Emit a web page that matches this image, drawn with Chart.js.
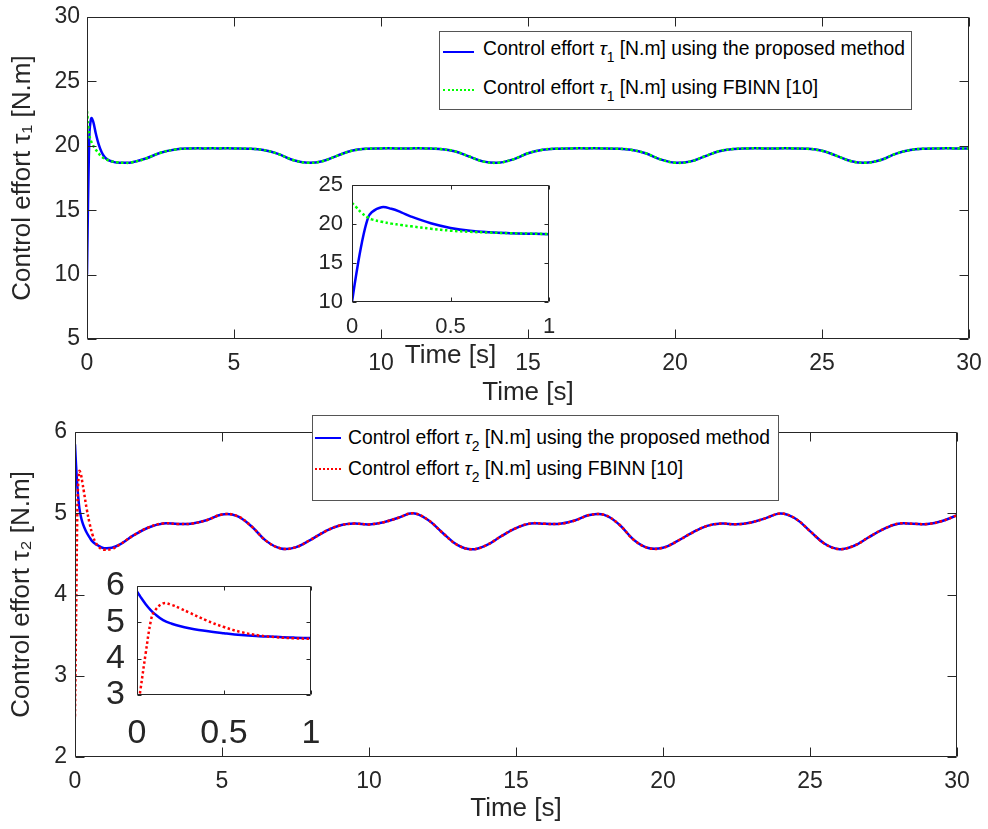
<!DOCTYPE html>
<html>
<head>
<meta charset="utf-8">
<script src="https://cdn.jsdelivr.net/npm/chart.js@4.4.1/dist/chart.umd.min.js"></script>
<style>
  html, body { margin: 0; padding: 0; background: #fff; }
  #page { position: relative; width: 988px; height: 829px; overflow: hidden; font-family: 'Liberation Sans', Arial, Helvetica, sans-serif; }
  canvas { position: absolute; }
  .legend { position: absolute; background: #fff; border: 1px solid #555; box-sizing: border-box; }
  .legend .sw { position: absolute; height: 0; }
  .legend .lt { position: absolute; font-size: 19.3px; line-height: 19.3px; white-space: nowrap; color: #000; }
  .legend sub { font-size: 0.72em; vertical-align: -0.5em; line-height: 0; }
</style>
</head>
<body>
<div id="page">
  <canvas id="topMain" width="1010" height="422" style="left:0;top:-10px"></canvas>
  <canvas id="bottomMain" width="988" height="427" style="left:0;top:402px"></canvas>
  <canvas id="topInset" width="285" height="215" style="left:290px;top:160px"></canvas>
  <canvas id="bottomInset" width="285" height="205" style="left:60px;top:550px"></canvas>

  <div class="legend" style="left:439px;top:31px;width:473px;height:79px">
    <span class="sw" style="left:3px;top:19px;width:31px;border-top:2.5px solid #0000ff"></span>
    <span class="lt" style="left:43px;top:7px">Control effort <i>τ</i><sub>1</sub> [N.m] using the proposed method</span>
    <span class="sw" style="left:3px;top:57px;width:31px;border-top:2.5px dotted #00ff00"></span>
    <span class="lt" style="left:43px;top:45.5px">Control effort <i>τ</i><sub>1</sub> [N.m] using FBINN [10]</span>
  </div>
  <div class="legend" style="left:312px;top:415px;width:467px;height:86px">
    <span class="sw" style="left:2px;top:21px;width:26px;border-top:2.5px solid #0000ff"></span>
    <span class="lt" style="left:35px;top:12px">Control effort <i>τ</i><sub>2</sub> [N.m] using the proposed method</span>
    <span class="sw" style="left:2px;top:52px;width:26px;border-top:2.5px dotted #ff0000"></span>
    <span class="lt" style="left:35px;top:42.5px">Control effort <i>τ</i><sub>2</sub> [N.m] using FBINN [10]</span>
  </div>
</div>
<script>
// sample times [s], dense at the start for the transient
const time = [0, 0.02, 0.05, 0.08, 0.1, 0.15, 0.2, 0.25, 0.3, 0.4, 0.5, 0.6, 0.7, 0.8, 0.9, 1, 1.25,
  1.5, 2, 2.5, 3, 3.5, 4, 4.5, 5, 5.5, 6, 6.5, 7, 7.5, 8, 8.5, 9, 9.5, 10,
  10.5, 11, 11.5, 12, 12.5, 13, 13.5, 14, 14.5, 15, 15.5, 16, 16.5, 17, 17.5, 18,
  18.5, 19, 19.5, 20, 20.5, 21, 21.5, 22, 22.5, 23, 23.5, 24, 24.5, 25, 25.5, 26,
  26.5, 27, 27.5, 28, 28.5, 29, 29.5, 30];

const tau1Proposed = [10, 13.3, 17.6, 20.7, 21.5, 22.15, 21.95, 21.5, 20.95, 20.1, 19.5, 19.12, 18.93, 18.82, 18.75, 18.7, 18.68,
  18.7, 19.01, 19.46, 19.71, 19.79, 19.8, 19.8, 19.8, 19.78, 19.67, 19.37, 18.9, 18.68, 18.8, 19.22, 19.61, 19.77, 19.8,
  19.8, 19.8, 19.8, 19.76, 19.58, 19.17, 18.77, 18.69, 18.95, 19.42, 19.69, 19.78, 19.8, 19.8, 19.8, 19.78,
  19.69, 19.42, 18.95, 18.69, 18.77, 19.17, 19.58, 19.76, 19.8, 19.8, 19.8, 19.8, 19.77, 19.61, 19.22, 18.8,
  18.68, 18.9, 19.37, 19.67, 19.78, 19.8, 19.8, 19.8];

const tau1Fbinn = [22.7, 22.2, 21.4, 20.85, 20.6, 20.3, 20.05, 19.87, 19.7, 19.4, 19.15, 19.0, 18.9, 18.82, 18.77, 18.72, 18.68,
  18.7, 19.01, 19.46, 19.71, 19.79, 19.8, 19.8, 19.8, 19.78, 19.67, 19.37, 18.9, 18.68, 18.8, 19.22, 19.61, 19.77, 19.8,
  19.8, 19.8, 19.8, 19.76, 19.58, 19.17, 18.77, 18.69, 18.95, 19.42, 19.69, 19.78, 19.8, 19.8, 19.8, 19.78,
  19.69, 19.42, 18.95, 18.69, 18.77, 19.17, 19.58, 19.76, 19.8, 19.8, 19.8, 19.8, 19.77, 19.61, 19.22, 18.8,
  18.68, 18.9, 19.37, 19.67, 19.78, 19.8, 19.8, 19.8];

const tau2Proposed = [5.85, 5.7, 5.5, 5.33, 5.24, 5.06, 4.96, 4.89, 4.84, 4.76, 4.7, 4.65, 4.62, 4.6, 4.58, 4.57, 4.575,
  4.61, 4.73, 4.825, 4.875, 4.868, 4.874, 4.917, 4.985, 4.968, 4.84, 4.66, 4.567, 4.58, 4.67, 4.775, 4.85, 4.873, 4.863,
  4.89, 4.945, 5.0, 4.92, 4.76, 4.61, 4.556, 4.608, 4.718, 4.818, 4.875, 4.87, 4.87, 4.91, 4.978, 4.98,
  4.865, 4.675, 4.572, 4.575, 4.66, 4.762, 4.845, 4.873, 4.864, 4.887, 4.94, 4.997, 4.935, 4.78, 4.625, 4.558,
  4.6, 4.705, 4.806, 4.872, 4.871, 4.868, 4.905, 4.975];

const tau2Fbinn = [2.5, 3.15, 4.15, 5.05, 5.3, 5.52, 5.48, 5.38, 5.27, 5.05, 4.87, 4.73, 4.64, 4.59, 4.56, 4.55, 4.56,
  4.61, 4.73, 4.825, 4.875, 4.868, 4.874, 4.917, 4.985, 4.968, 4.84, 4.66, 4.567, 4.58, 4.67, 4.775, 4.85, 4.873, 4.863,
  4.89, 4.945, 5.0, 4.92, 4.76, 4.61, 4.556, 4.608, 4.718, 4.818, 4.875, 4.87, 4.87, 4.91, 4.978, 4.98,
  4.865, 4.675, 4.572, 4.575, 4.66, 4.762, 4.845, 4.873, 4.864, 4.887, 4.94, 4.997, 4.935, 4.78, 4.625, 4.558,
  4.6, 4.705, 4.806, 4.872, 4.871, 4.868, 4.905, 4.975];

const FONT = "'Liberation Sans', Arial, Helvetica, sans-serif";
const INK = '#262626';

// matlab style box with inward ticks on all four sides
const boxPlugin = {
  id: 'matlabBox',
  beforeDraw(chart, args, o) {
    if (!o.fill) return;
    const { ctx, chartArea: a } = chart;
    ctx.save();
    ctx.fillStyle = '#ffffff';
    ctx.fillRect(a.left, a.top, a.right - a.left, a.bottom - a.top);
    ctx.restore();
  },
  afterDatasetsDraw(chart, args, o) {
    const { ctx, chartArea: a, scales: { x, y } } = chart;
    const L = Math.round(a.left) + 0.5, R = Math.round(a.right) - 0.5;
    const T = Math.round(a.top) + 0.5, B = Math.round(a.bottom) - 0.5;
    const len = o.tick;
    ctx.save();
    ctx.strokeStyle = INK;
    ctx.lineWidth = 1;
    ctx.beginPath();
    ctx.rect(L, T, R - L, B - T);
    x.ticks.forEach(t => {
      const px = Math.round(x.getPixelForValue(t.value)) + 0.5;
      ctx.moveTo(px, B); ctx.lineTo(px, B - len);
      ctx.moveTo(px, T); ctx.lineTo(px, T + len);
    });
    y.ticks.forEach(t => {
      const py = Math.round(y.getPixelForValue(t.value)) + 0.5;
      ctx.moveTo(L, py); ctx.lineTo(L + len, py);
      ctx.moveTo(R, py); ctx.lineTo(R - len, py);
    });
    ctx.stroke();
    ctx.restore();
  }
};

const plainNumber = v => String(+Number(v).toFixed(3));

function plot(id, s) {
  const datasets = s.series.map(d => ({
    label: d.label,
    data: time.map((t, i) => ({ x: t, y: d.values[i] })),
    borderColor: d.color,
    borderWidth: 2.5,
    borderDash: d.dotted ? [2.5, 2.5] : [],
    pointRadius: 0,
    tension: 0.4,
    order: d.dotted ? 0 : 1
  }));
  const tickFont = { family: FONT, size: s.tickSize };
  return new Chart(document.getElementById(id), {
    type: 'line',
    data: { datasets },
    plugins: [boxPlugin],
    options: {
      responsive: false,
      animation: false,
      devicePixelRatio: 1,
      layout: { padding: { left: 0, top: s.padTop, right: s.padRight, bottom: 0 } },
      plugins: {
        legend: { display: false },
        tooltip: { enabled: false },
        matlabBox: { fill: s.fill, tick: s.tickLen }
      },
      scales: {
        x: {
          type: 'linear', min: s.x[0], max: s.x[1],
          grid: { display: false, drawTicks: false }, border: { display: false },
          ticks: { stepSize: s.x[2], padding: s.xPad, color: INK, font: tickFont, maxRotation: 0, autoSkip: false, callback: plainNumber },
          title: { display: !!s.xTitle, text: s.xTitle || '', color: INK, font: { family: FONT, size: 26 }, padding: { top: 0, bottom: s.xTitlePad || 0 } },
          afterFit: sc => { sc.height = s.xHeight; }
        },
        y: {
          type: 'linear', min: s.y[0], max: s.y[1],
          grid: { display: false, drawTicks: false }, border: { display: false },
          ticks: { stepSize: s.y[2], padding: s.yPad, color: INK, font: tickFont, autoSkip: false, callback: plainNumber },
          title: { display: !!s.yTitle, text: s.yTitle || '', color: INK, font: { family: FONT, size: 26 }, padding: { top: s.yTitlePad || 0, bottom: 0 } },
          afterFit: sc => { sc.width = s.yWidth; }
        }
      }
    }
  });
}

const tau1Series = [
  { label: 'Control effort τ1 [N.m] using the proposed method', values: tau1Proposed, color: '#0000ff' },
  { label: 'Control effort τ1 [N.m] using FBINN [10]', values: tau1Fbinn, color: '#00ff00', dotted: true }
];
const tau2Series = [
  { label: 'Control effort τ2 [N.m] using the proposed method', values: tau2Proposed, color: '#0000ff' },
  { label: 'Control effort τ2 [N.m] using FBINN [10]', values: tau2Fbinn, color: '#ff0000', dotted: true }
];

// canvas sizes and paddings chosen so the plot boxes land where the figure has them
plot('topMain', {
  series: tau1Series, x: [0, 30, 5], y: [5, 30, 5],
  padTop: 27, padRight: 41, yWidth: 87, xHeight: 73,
  tickSize: 23, xPad: 11, yPad: 7, tickLen: 9,
  xTitle: 'Time [s]', xTitlePad: 3.9,
  yTitle: 'Control effort τ₁ [N.m]', yTitlePad: 7.4
});

plot('bottomMain', {
  series: tau2Series, x: [0, 30, 5], y: [2, 6, 1],
  padTop: 30, padRight: 31, yWidth: 75, xHeight: 72,
  tickSize: 23, xPad: 10.5, yPad: 8, tickLen: 9,
  xTitle: 'Time [s]', xTitlePad: 4.4,
  yTitle: 'Control effort τ₂ [N.m]', yTitlePad: 6
});

plot('topInset', {
  series: tau1Series, x: [0, 1, 0.5], y: [10, 25, 5],
  padTop: 25, padRight: 26, yWidth: 62, xHeight: 73,
  tickSize: 22, xPad: 11.8, yPad: 9, tickLen: 4, fill: true,
  xTitle: 'Time [s]', xTitlePad: 3.9
});

plot('bottomInset', {
  series: tau2Series, x: [0, 1, 0.5], y: [3, 6, 1],
  padTop: 36, padRight: 34, yWidth: 77, xHeight: 60,
  tickSize: 34, xPad: 18.6, yPad: 12, tickLen: 4, fill: true
});
</script>
</body>
</html>
